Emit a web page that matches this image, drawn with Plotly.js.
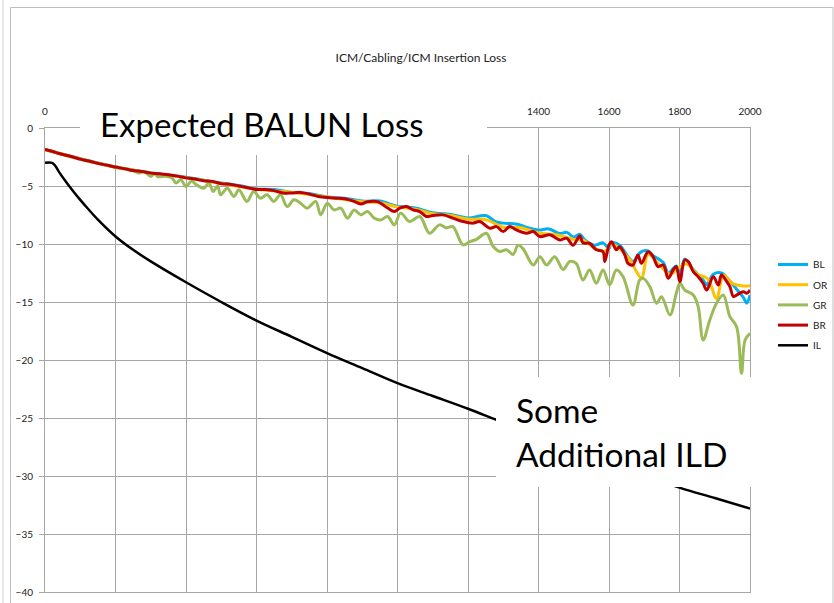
<!DOCTYPE html>
<html>
<head>
<meta charset="utf-8">
<script src="https://cdn.plot.ly/plotly-3.0.1.min.js"></script>
<style>html,body{margin:0;padding:0;background:#fff;}#chart{width:834px;height:603px;}</style>
</head>
<body>
<div id="chart"></div>
<script>
// ---- data ----
const seriesNames = ["BL", "OR", "GR", "BR", "IL"];
const xTicks = [0, 200, 400, 600, 800, 1000, 1200, 1400, 1600, 1800, 2000];
// labels 200..1200 are hidden behind the "Expected BALUN Loss" box in the reference
const xTickText = ["0", "", "", "", "", "", "", "1400", "1600", "1800", "2000"];
const yTicks = [0, -5, -10, -15, -20, -25, -30, -35, -40];

const freqBL = [0,100,200,300,400,500,550,600,650,700,750,800,850,900,950,1000,1050,1100,1150,1200,1250,1280,1300,1340,1370,1400,1430,1460,1480,1500,1517,1530,1560,1583,1600,1607,1630,1654,1668,1690,1711,1725,1754,1768,1791,1801,1815,1839,1867,1877,1896,1919,1943,1962,1981,1991,2000];
const lossBL = [-1.85,-2.65,-3.35,-3.85,-4.25,-4.75,-4.95,-5.25,-5.3,-5.55,-5.65,-5.95,-6.05,-6.3,-6.3,-6.75,-6.9,-7.3,-7.45,-7.75,-7.55,-8.1,-8.2,-8.3,-8.6,-8.8,-8.7,-9.1,-9.0,-9.4,-9.15,-9.6,-10.1,-9.9,-10.4,-9.9,-10.1,-11.1,-11.5,-10.7,-10.6,-11.0,-11.6,-12.5,-11.9,-12.6,-11.3,-12.2,-13.1,-13.5,-12.6,-12.5,-13.2,-13.9,-14.6,-15.1,-14.4];

const freqOR = [0,100,200,300,400,500,600,700,800,900,950,1000,1050,1100,1150,1200,1250,1300,1350,1400,1450,1500,1530,1560,1590,1607,1630,1660,1692,1711,1740,1773,1800,1820,1850,1880,1905,1925,1950,1975,2000];
const lossOR = [-1.85,-2.66,-3.36,-3.87,-4.28,-4.78,-5.28,-5.55,-5.95,-6.35,-6.45,-6.8,-7.0,-7.4,-7.55,-7.85,-7.9,-8.55,-8.6,-9.05,-9.2,-9.6,-9.7,-10.4,-10.6,-10.0,-10.4,-11.4,-12.9,-10.9,-11.7,-12.6,-12.0,-11.7,-12.6,-13.0,-14.7,-12.7,-13.4,-13.6,-13.6];

const freqGR = [0,100,200,250,268,280,300,310,320,340,360,372,385,400,415,430,450,465,477,490,498,517,536,550,573,592,611,630,649,668,687,706,725,744,768,782,801,820,839,858,877,896,915,934,953,972,991,1009,1034,1063,1091,1119,1138,1157,1186,1205,1224,1252,1271,1290,1309,1328,1342,1356,1385,1404,1423,1446,1470,1489,1507,1526,1545,1564,1583,1602,1621,1640,1668,1687,1697,1716,1735,1749,1773,1791,1801,1815,1839,1853,1867,1886,1905,1924,1943,1962,1976,1986,2000];
const lossGR = [-1.87,-2.7,-3.4,-3.7,-3.89,-3.75,-4.18,-3.95,-4.2,-4.15,-4.3,-4.75,-4.45,-5.04,-4.6,-4.9,-5.2,-4.75,-5.47,-5.0,-5.76,-5.19,-5.9,-5.33,-6.33,-5.47,-6.05,-5.76,-6.33,-5.76,-6.77,-6.19,-6.48,-6.91,-6.33,-7.49,-6.48,-7.06,-6.91,-7.77,-7.06,-7.49,-7.2,-7.77,-7.92,-7.63,-8.35,-7.34,-8.06,-7.63,-9.07,-8.35,-8.6,-8.5,-10.08,-9.8,-9.6,-9.07,-10.2,-10.65,-10.5,-10.9,-10.1,-10.4,-11.8,-11.1,-11.8,-11.1,-12.2,-11.5,-11.67,-13.1,-12.24,-13.39,-12.24,-13.53,-12.24,-12.82,-15.26,-13.1,-12.96,-13.68,-15.11,-14.54,-16.12,-14.25,-13.39,-13.97,-14.4,-15.4,-18.28,-16.55,-15.11,-14.4,-16.26,-17.13,-21.15,-18.28,-17.7];

const freqBR = [0,20,40,60,80,100,125,150,175,200,225,250,275,300,325,350,375,400,425,450,475,500,525,550,575,600,625,650,675,700,725,750,775,800,825,850,875,896,915,943,972,991,1006,1025,1044,1063,1082,1100,1129,1157,1186,1214,1233,1262,1281,1300,1318,1337,1366,1385,1404,1432,1461,1480,1498,1517,1526,1545,1564,1583,1588,1600,1607,1621,1630,1645,1654,1668,1682,1692,1711,1725,1739,1754,1768,1782,1791,1801,1815,1825,1839,1853,1867,1877,1896,1910,1919,1934,1943,1953,1962,1981,1991,2000];
const lossBR = [-1.85,-2.0,-2.2,-2.35,-2.5,-2.68,-2.85,-3.05,-3.2,-3.37,-3.5,-3.66,-3.75,-3.89,-3.95,-4.04,-4.15,-4.3,-4.4,-4.55,-4.6,-4.8,-4.85,-5.0,-5.15,-5.3,-5.3,-5.4,-5.6,-5.6,-5.55,-5.7,-5.9,-6.0,-6.05,-6.1,-6.3,-6.55,-6.35,-6.35,-6.9,-7.2,-6.91,-6.77,-7.06,-7.2,-7.63,-7.55,-7.49,-7.77,-8.06,-8.2,-8.06,-8.64,-8.5,-8.93,-8.5,-8.78,-9.07,-8.93,-9.36,-9.21,-9.65,-9.5,-10.1,-9.3,-9.9,-9.95,-10.5,-10.66,-11.5,-10.1,-9.8,-10.5,-10.23,-10.95,-11.67,-11.81,-10.95,-11.67,-10.66,-11.09,-11.95,-11.81,-12.96,-12.24,-11.95,-13.25,-11.38,-11.52,-12.39,-12.82,-13.39,-13.97,-12.82,-13.53,-12.67,-13.25,-13.68,-14.54,-14.4,-14.11,-14.25,-13.97];

const freqIL = [0,20,30,40,60,80,100,120,150,200,250,300,400,500,600,700,800,900,1000,1100,1200,1300,1400,1500,1600,1700,1800,1900,2000];
const lossIL = [-3,-3,-3.3,-3.8,-4.65,-5.45,-6.2,-6.9,-7.9,-9.35,-10.5,-11.5,-13.3,-15.0,-16.6,-18.0,-19.4,-20.7,-22.0,-23.1,-24.2,-25.4,-26.5,-27.6,-28.7,-29.9,-31.0,-31.9,-32.8];

const titleText = "ICM/Cabling/ICM Insertion Loss";
const note1 = "Expected BALUN Loss";
const note2 = "Some<br>Additional ILD";

// ---- styling ----
const colors = {BL: "#00b0f0", OR: "#ffc000", GR: "#9bbb59", BR: "#c00000", IL: "#000000"};
const xs = {BL: freqBL, OR: freqOR, GR: freqGR, BR: freqBR, IL: freqIL};
const ys = {BL: lossBL, OR: lossOR, GR: lossGR, BR: lossBR, IL: lossIL};
const FONT = "Lato, 'Open Sans', sans-serif";

const traces = seriesNames.map(n => ({
  type: "scatter", mode: "lines", name: n, legendgroup: n,
  x: xs[n], y: ys[n],
  line: {color: colors[n], width: n === "IL" ? 2.5 : 3, shape: "spline", smoothing: 1}
}));

// plot area in pixels
const L = 45, R = 750, T = 128, B = 592;
const px = v => (v - L) / (R - L);
const py = v => (B - v) / (B - T);

const grid = "#a6a6a6";
const layout = {
  width: 834, height: 603,
  margin: {l: L, r: 834 - R, t: T, b: 603 - B, pad: 0},
  paper_bgcolor: "#ffffff", plot_bgcolor: "#ffffff",
  font: {family: FONT, color: "#222"},
  showlegend: true,
  title: {text: titleText, font: {family: FONT, size: 12, color: "#222"},
          x: 421 / 834, xanchor: "center", y: 1 - 58 / 603, yanchor: "middle"},
  xaxis: {
    range: [0, 2000], side: "top", tickvals: xTicks, ticktext: xTickText, ticks: "",
    showgrid: true, gridcolor: grid, gridwidth: 1, zeroline: false,
    showline: true, linecolor: grid, mirror: true, automargin: false,
    tickfont: {family: FONT, size: 10, color: "#222"}, ticklabelstandoff: 8
  },
  yaxis: {
    range: [-40, 0], tickvals: yTicks, ticks: "outside", ticklen: 5, tickcolor: grid,
    showgrid: true, gridcolor: grid, gridwidth: 1, zeroline: false,
    showline: true, linecolor: grid, mirror: true, automargin: false,
    tickfont: {family: FONT, size: 10, color: "#222"}, ticklabelstandoff: 4
  },
  legend: {
    xref: "container", yref: "container",
    x: 773 / 834, y: 1 - 250 / 603, xanchor: "left", yanchor: "top",
    font: {family: FONT, size: 10, color: "#222"}, bgcolor: "rgba(0,0,0,0)",
    itemwidth: 30, tracegroupgap: 1.2
  },
  shapes: [
    {type: "rect", xref: "paper", yref: "paper", x0: px(80), x1: px(487), y0: py(155), y1: py(95),
     fillcolor: "#ffffff", line: {width: 0}, layer: "above"},
    {type: "rect", xref: "paper", yref: "paper", x0: px(496), x1: px(757), y0: py(487), y1: py(377),
     fillcolor: "#ffffff", line: {width: 0}, layer: "above"},
    {type: "line", xref: "paper", yref: "paper", x0: px(3), x1: px(3), y0: py(0), y1: py(603),
     line: {color: "#d0d0d0", width: 1}},
    {type: "line", xref: "paper", yref: "paper", x0: px(10.5), x1: px(10.5), y0: py(7.5), y1: py(603),
     line: {color: "#bfbfbf", width: 1}},
    {type: "line", xref: "paper", yref: "paper", x0: px(10.5), x1: px(833), y0: py(7.5), y1: py(7.5),
     line: {color: "#bfbfbf", width: 1}},
    {type: "line", xref: "paper", yref: "paper", x0: px(833), x1: px(833), y0: py(7.5), y1: py(603),
     line: {color: "#bfbfbf", width: 1}}
  ],
  annotations: [
    {xref: "paper", yref: "paper", x: px(98), y: py(124), xanchor: "left", yanchor: "middle",
     text: note1, showarrow: false, font: {family: FONT, size: 33, color: "#000"}},
    {xref: "paper", yref: "paper", x: px(514), y: py(432), xanchor: "left", yanchor: "middle",
     text: note2, showarrow: false, align: "left", font: {family: FONT, size: 33.5, color: "#000"}}
  ]
};

Plotly.newPlot("chart", traces, layout, {displayModeBar: false, staticPlot: true});
</script>
</body>
</html>
